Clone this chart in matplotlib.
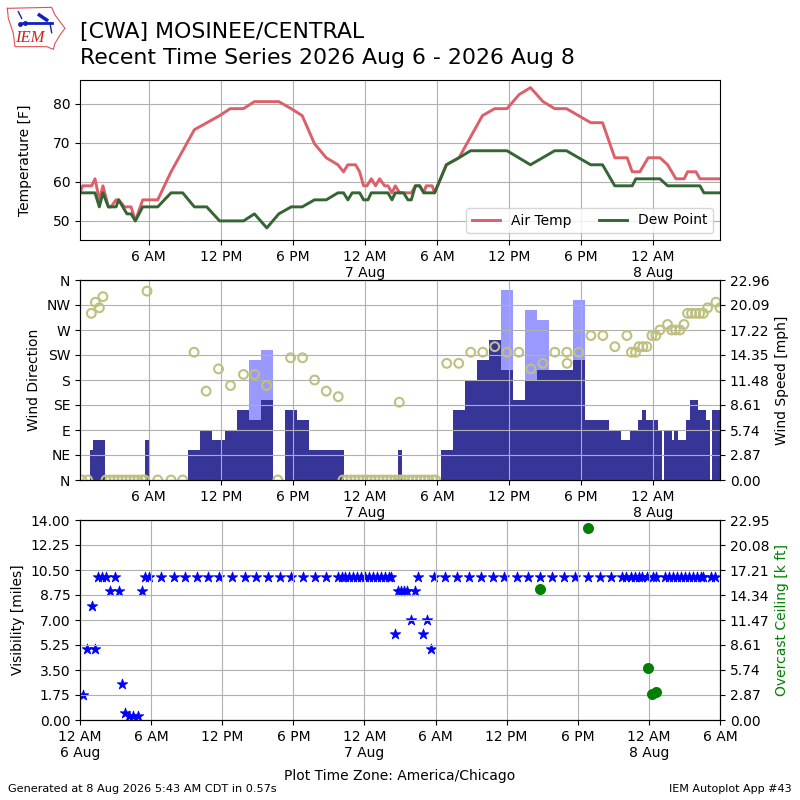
import matplotlib
matplotlib.use("Agg")
import matplotlib.pyplot as plt
import numpy as np

# ---------- data (hours since 6 Aug 00:00) ----------
temp_h = [0.28,0.5,1.25,1.53,1.89,2.19,2.64,2.86,3.28,3.5,3.97,4.53,4.89,5.5,6.75,7.86,9.8,11.9,12.78,13.89,14.8,16.83,17.86,18.78,19.8,20.78,21.75,22.22,22.58,23.22,23.56,23.89,24.17,24.53,24.89,25.22,25.64,25.92,26.25,26.53,26.89,27.86,28.2,28.56,28.9,29.1,29.6,29.8,30.78,31.83,33.78,34.8,35.83,36.83,37.78,38.83,39.8,40.78,42.8,43.78,44.8,45.83,46.25,46.89,47.58,48.56,49.2,49.89,50.58,50.86,51.56,51.89,53.56]
temp_f = [57.2,59,59,60.8,55.4,59,53.6,53.6,55.4,55.4,53.6,53.6,50,55.4,55.4,62.6,73.4,77,78.8,78.8,80.6,80.6,78.8,77,69.8,66.2,64.4,62.6,64.4,64.4,62.6,59,59,60.8,59,60.8,59,59,57.2,59,57.2,57.2,59,59,57.2,59,59,57.2,64.4,66.2,77,78.8,78.8,82.4,84.2,80.6,78.8,78.8,75.2,75.2,66.2,66.2,62.6,62.6,66.2,66.2,64.4,60.8,60.8,62.6,62.6,60.8,60.8]
dew_h = [0.28,1.53,1.89,2.19,2.64,3.28,3.5,4.19,4.53,4.89,5.5,6.75,7.86,8.83,9.8,10.83,11.9,13.89,14.8,15.83,16.83,17.86,18.78,19.8,20.78,21.75,22.22,22.58,22.94,23.56,23.89,24.25,24.53,25.92,26.25,26.53,27.22,27.58,27.86,28.2,28.56,28.9,29.8,30.78,31.83,32.8,35.83,37.78,39.8,40.78,42.8,43.78,44.8,46.25,46.56,48.56,49.2,51.89,52.22,53.56]
dew_f = [57.2,57.2,53.6,57.2,53.6,53.6,55.4,51.8,51.8,50,53.6,53.6,57.2,57.2,53.6,53.6,50,50,51.8,48.2,51.8,53.6,53.6,55.4,55.4,57.2,57.2,55.4,57.2,57.2,55.4,55.4,57.2,57.2,55.4,57.2,57.2,55.4,55.4,59,59,57.2,57.2,64.4,66.2,68,68,64.4,68,68,64.4,64.4,59,59,60.8,60.8,59,59,57.2,57.2]

wind_start = [1.14,1.39,5.72,9.31,10.31,11.31,12.31,13.39,14.39,15.31,17.31,18.31,19.31,26.72,30.31,31.31,32.31,33.31,34.31,35.31,36.31,37.31,38.31,39.31,41.31,42.31,44.31,45.31,46.06,46.72,47.06,47.39,48.39,48.89,49.56,49.72,50.06,50.72,51.06,51.72,52.39,52.89]
wind_end = [1.39,2.36,6.0,10.31,11.31,12.31,13.31,14.39,15.31,16.31,18.31,19.31,22.22,27.06,31.31,32.31,33.31,34.31,35.31,36.31,37.31,38.31,39.31,41.31,42.31,44.31,45.31,46.06,46.72,47.06,47.39,48.39,48.72,49.56,49.72,50.06,50.72,51.06,51.72,52.39,52.72,53.56]
wind_mph = [3.45,4.6,4.6,3.45,5.75,4.6,5.75,8.05,6.9,9.2,8.05,6.9,3.45,3.45,3.45,8.05,11.5,13.8,16.1,12.65,9.2,11.5,12.65,12.65,13.8,6.9,5.75,4.6,5.75,6.9,8.05,6.9,5.75,5.75,4.6,5.75,4.6,6.9,9.2,8.05,6.9,8.05]
gust_start = [14.39,15.31,35.31,37.31,38.31,41.31]
gust_end = [15.31,16.31,36.31,38.31,39.31,42.31]
gust_mph = [13.8,14.95,21.85,19.55,18.4,20.7]

dir_h = [0.44,0.92,1.22,1.56,1.89,2.19,2.44,2.78,3.11,3.44,3.78,4.11,4.44,4.78,5.11,5.44,5.67,5.86,6.75,7.86,8.83,9.78,10.78,11.81,12.81,13.89,14.81,15.81,16.75,17.81,18.81,19.81,20.78,21.78,22.17,22.5,22.83,23.17,23.5,23.83,24.17,24.5,24.83,25.17,25.5,25.83,26.17,26.5,26.78,26.86,27.03,27.3,27.64,27.97,28.3,28.64,28.97,29.3,29.64,29.89,30.81,31.81,32.81,33.81,34.81,35.81,36.81,37.81,38.81,39.81,40.81,40.83,41.81,42.81,43.81,44.81,45.81,46.19,46.53,46.81,47.14,47.47,47.89,48.22,48.56,49.19,49.53,49.86,50.22,50.56,50.86,51.19,51.53,51.86,52.17,52.53,53.22,53.56]
dir_deg = [0,0,300,320,310,330,0,0,0,0,0,0,0,0,0,0,0,340,0,0,0,230,160,200,170,190,190,170,0,220,220,180,160,150,0,0,0,0,0,0,0,0,0,0,0,0,0,0,0,140,0,0,0,0,0,0,0,0,0,0,210,210,230,230,240,230,230,200,210,230,230,210,230,260,260,240,260,230,230,240,240,240,260,260,270,280,270,270,270,280,300,300,300,300,300,310,320,310]

vis_h = [0.22,0.56,0.98,1.27,1.55,1.86,2.19,2.56,2.98,3.29,3.52,3.82,4.16,4.5,4.86,5.2,5.51,5.85,6.83,7.9,8.83,9.84,10.77,11.75,12.8,13.9,14.82,15.83,16.84,17.8,18.81,19.8,20.78,21.74,22.07,22.4,22.73,23.06,23.39,23.72,24.05,24.38,24.71,25.04,25.37,25.7,26.03,26.24,26.54,26.79,27.07,27.35,27.63,27.92,28.25,28.56,28.9,29.24,29.58,29.83,30.76,31.8,32.82,33.8,34.82,35.8,36.85,37.77,38.79,39.8,40.82,41.8,42.85,43.86,44.82,45.77,46.11,46.45,46.79,47.13,47.46,47.8,48.31,48.62,49.32,49.66,50.0,50.34,50.68,51.01,51.35,51.69,52.03,52.37,52.56,53.2,53.55]
vis_mi = [1.75,5,8,5,10,10,10,9,10,9,2.5,0.5,0.25,0.25,0.25,9,10,10,10,10,10,10,10,10,10,10,10,10,10,10,10,10,10,10,10,10,10,10,10,10,10,10,10,10,10,10,10,10,6,9,9,9,9,7,9,10,6,7,5,10,10,10,10,10,10,10,10,10,10,10,10,10,10,10,10,10,10,10,10,10,10,10,10,10,10,10,10,10,10,10,10,10,10,10,10,10,10]
ceil_h = [38.79,42.85,47.92,48.23,48.62]
ceil_kft = [15.03,22.03,5.97,2.98,3.25]

top_ticks = [6,12,18,24,30,36,42,48]
top_labels = ["6 AM","12 PM","6 PM","12 AM\n7 Aug","6 AM","12 PM","6 PM","12 AM\n8 Aug"]
bot_ticks = [0,6,12,18,24,30,36,42,48,54]
bot_labels = ["12 AM\n6 Aug","6 AM","12 PM","6 PM","12 AM\n7 Aug","6 AM","12 PM","6 PM","12 AM\n8 Aug","6 AM"]
dir_ticks = [0,45,90,135,180,225,270,315,360]
dir_labels = ["N","NE","E","SE","S","SW","W","NW","N"]
speed_ticks = [0,2.87,5.74,8.61,11.48,14.35,17.22,20.09,22.96]
vis_ticks = [0,1.75,3.5,5.25,7,8.75,10.5,12.25,14]
ceil_ticks = [0,2.87,5.74,8.61,11.47,14.34,17.21,20.08,22.95]

XMIN, XMAX = 0.28, 53.56

fig = plt.figure(figsize=(8, 8), dpi=100)

# ---------- temperature ----------
ax1 = fig.add_axes([0.1, 0.7, 0.8, 0.2])
ax1.plot(temp_h, temp_f, color="#dc5f6a", lw=2.1, label="Air Temp")
ax1.plot(dew_h, dew_f, color="#336633", lw=2.1, label="Dew Point")
ax1.set_xlim(XMIN, XMAX)
ax1.set_ylim(45.1, 86.15)
ax1.set_yticks([50, 60, 70, 80])
ax1.set_xticks(top_ticks, top_labels)
ax1.grid(True)
ax1.set_ylabel("Temperature [F]", labelpad=14.8)
ax1.legend(loc="lower right", ncol=2)

# ---------- wind ----------
ax2 = fig.add_axes([0.1, 0.4, 0.8, 0.25])
ax2.bar(gust_start, gust_mph, width=np.subtract(gust_end, gust_start),
        align="edge", color="#9999ff", linewidth=0)
ax2.bar(wind_start, wind_mph, width=np.subtract(wind_end, wind_start),
        align="edge", color="#373598", linewidth=0)
ax2.set_xlim(XMIN, XMAX)
ax2.set_ylim(0, 22.96)
ax2.set_yticks(speed_ticks, [f"{v:.2f}" for v in speed_ticks])
ax2.set_xticks(top_ticks, top_labels)
ax2.set_axisbelow(False)
ax2.grid(True)

ax2b = ax2.twinx()
ax2.yaxis.tick_right()
ax2.yaxis.set_label_position("right")
ax2.set_ylabel("Wind Speed [mph]")
ax2b.scatter(dir_h, dir_deg, s=40, facecolor="none", edgecolor="#bfc080", linewidth=1.5)
ax2b.set_ylim(0, 360)
ax2b.set_yticks(dir_ticks, dir_labels)
ax2b.yaxis.tick_left()
ax2b.yaxis.set_label_position("left")
ax2b.set_ylabel("Wind Direction")
ax2b.set_xlim(XMIN, XMAX)

# ---------- visibility / ceiling ----------
ax3 = fig.add_axes([0.1, 0.1, 0.8, 0.25])
ax3.scatter(vis_h, vis_mi, marker="*", s=62, color="blue", linewidth=0.6)
ax3.set_xlim(0, 54)
ax3.set_ylim(0, 14)
ax3.set_yticks(vis_ticks, [f"{v:.2f}" for v in vis_ticks])
ax3.set_xticks(bot_ticks, bot_labels)
ax3.set_axisbelow(False)
ax3.grid(True)
ax3.set_ylabel("Visibility [miles]")
ax3.set_xlabel("Plot Time Zone: America/Chicago", labelpad=6.7)

ax3b = ax3.twinx()
ax3b.scatter(ceil_h, ceil_kft, s=48, color="green")
ax3b.set_ylim(0, 22.95)
ax3b.set_yticks(ceil_ticks, [f"{v:.2f}" for v in ceil_ticks])
ax3b.set_ylabel("Overcast Ceiling [k ft]", color="green")

# ---------- titles / footer ----------
fig.text(0.1, 0.9206, "[CWA] MOSINEE/CENTRAL\nRecent Time Series 2026 Aug 6 - 2026 Aug 8",
         fontsize=15.83, ha="left", va="baseline", linespacing=1.33)
fig.text(0.01, 0.01, "Generated at 8 Aug 2026 5:43 AM CDT in 0.57s", fontsize=8.1, ha="left", va="baseline")
fig.text(0.99, 0.01, "IEM Autoplot App #43", fontsize=8, ha="right", va="baseline")

# ---------- logo sketch ----------
logo = fig.add_axes([0, 1 - 60/800, 100/800, 60/800])
logo.set_xlim(0, 300)
logo.set_ylim(180, 0)
logo.axis("off")
outline_x = [22,155,165,195,180,165,160,140,45,40,25,22]
outline_y = [25,22,45,85,105,130,148,140,140,100,55,25]
logo.plot(outline_x, outline_y, color="#e05050", lw=0.8)
logo.plot([70,155], [70,70], color="#1020c0", lw=2)
logo.plot([118,140], [45,60], color="#1020c0", lw=2.5)
logo.plot([55,65], [35,55], color="#1020c0", lw=1)
logo.plot([150,155], [70,98], color="#1020c0", lw=1)
logo.plot([60,75], [72,70], "o", color="#1020c0", ms=2.5)
logo.text(90, 115, "IEM", color="#d02020", fontsize=12, style="italic",
          family="Liberation Serif", ha="center", va="center")

fig.savefig("out.png", dpi=100)
